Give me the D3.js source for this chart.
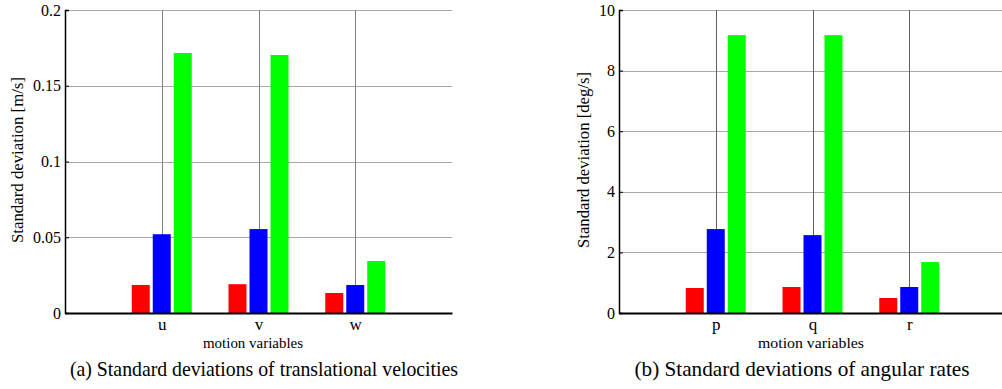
<!DOCTYPE html>
<html><head><meta charset="utf-8">
<script src="https://cdn.jsdelivr.net/npm/d3@7"></script>
<style>
html,body{margin:0;padding:0;background:#fff;}
svg text{fill:#000;}
</style></head>
<body><svg id="c" width="1002" height="389"></svg>
<script>
const seriesColors = ["#ff0000", "#0000ff", "#00ff00"];
const catsA = ["u", "v", "w"];
const redA = [0.0185, 0.019, 0.0132];
const blueA = [0.052, 0.0554, 0.0185];
const greenA = [0.1716, 0.1703, 0.0343];
const ticksA = [0, 0.05, 0.1, 0.15, 0.2];
const tickLabelsA = ["0", "0.05", "0.1", "0.15", "0.2"];

const catsB = ["p", "q", "r"];
const redB = [0.825, 0.858, 0.495];
const blueB = [2.77, 2.57, 0.858];
const greenB = [9.17, 9.17, 1.68];
const ticksB = [0, 2, 4, 6, 8, 10];
const tickLabelsB = ["0", "2", "4", "6", "8", "10"];

const FONT = "Liberation Serif";
const svg = d3.select("#c");

function panel(opt){
  const g = svg.append("g").style("font-family", FONT);
  const x = d3.scaleLinear().domain([0, opt.cats.length + 1]).range([opt.x0, opt.x1]);
  const y = d3.scaleLinear().domain(opt.yDomain).range([313, 10]);
  const series = [opt.red, opt.blue, opt.green];
  // horizontal grid
  g.append("g").selectAll("line").data(opt.ticks.filter(t => t > 0)).join("line")
    .attr("x1", opt.x0).attr("x2", opt.x1).attr("y1", d => Math.round(y(d)) + 0.5).attr("y2", d => Math.round(y(d)) + 0.5)
    .attr("stroke", "#a8a8a8").attr("stroke-width", 1);
  // vertical grid
  g.append("g").selectAll("line").data(opt.cats).join("line")
    .attr("x1", (d, i) => Math.round(x(i + 1)) + 0.5).attr("x2", (d, i) => Math.round(x(i + 1)) + 0.5)
    .attr("y1", y(opt.yDomain[1])).attr("y2", y(0))
    .attr("stroke", opt.vgrid).attr("stroke-width", 1);
  // bars
  const off = 0.217, bw = 0.186;
  series.forEach((vals, s) => {
    g.append("g").selectAll("rect").data(vals).join("rect")
      .attr("x", (d, i) => x(i + 1 + (s - 1) * off - bw / 2))
      .attr("width", x(bw) - x(0))
      .attr("y", d => y(d))
      .attr("height", d => y(0) - y(d))
      .attr("fill", seriesColors[s]);
  });
  // y axis
  const ya = d3.axisLeft(y).tickValues(opt.ticks).tickFormat((d, i) => opt.tickLabels[i]).tickSize(-4).tickPadding(4);
  const yg = g.append("g").attr("transform", `translate(${opt.x0},0)`).call(ya);
  yg.attr("font-family", null).attr("font-size", null);
  yg.select(".domain").attr("stroke", "#000").attr("stroke-width", 1.5);
  yg.selectAll(".tick line").attr("stroke", "#000");
  yg.selectAll("text").style("font-family", FONT).style("font-size", "16px");
  // x axis
  const xa = d3.axisBottom(x).tickValues(opt.cats.map((d, i) => i + 1)).tickFormat((d, i) => opt.cats[i]).tickSize(0).tickPadding(5);
  const xg = g.append("g").attr("transform", `translate(0,313)`).call(xa);
  xg.attr("font-family", null).attr("font-size", null);
  xg.select(".domain").attr("stroke", "#000").attr("stroke-width", 1.8);
  xg.selectAll("text").style("font-family", FONT).style("font-size", "17px");
  // y label
  g.append("text").attr("transform", `translate(${opt.ylabX},160) rotate(-90)`)
    .attr("text-anchor", "middle").style("font-size", "16px").attr("dominant-baseline", "central")
    .attr("textLength", opt.ylabLen).attr("lengthAdjust", "spacingAndGlyphs")
    .text(opt.ylabel);
  // x label
  g.append("text").attr("x", opt.xlabX).attr("y", 348).attr("text-anchor", "middle")
    .style("font-size", "15px").attr("textLength", opt.xlabLen).attr("lengthAdjust", "spacingAndGlyphs")
    .text("motion variables");
  // caption
  g.append("text").attr("x", opt.capX).attr("y", 376).attr("text-anchor", "middle")
    .style("font-size", "21px").attr("textLength", opt.capLen).attr("lengthAdjust", "spacingAndGlyphs")
    .text(opt.caption);
}

panel({cats: catsA, red: redA, blue: blueA, green: greenA, ticks: ticksA, tickLabels: tickLabelsA,
  yDomain: [0, 0.2], x0: 65, x1: 452, vgrid: "#808080",
  ylabel: "Standard deviation [m/s]", ylabX: 17, ylabLen: 166,
  xlabX: 253, xlabLen: 100, caption: "(a) Standard deviations of translational velocities", capX: 264, capLen: 388});
panel({cats: catsB, red: redB, blue: blueB, green: greenB, ticks: ticksB, tickLabels: tickLabelsB,
  yDomain: [0, 10], x0: 619, x1: 1006, vgrid: "#606060",
  ylabel: "Standard deviation [deg/s]", ylabX: 583, ylabLen: 176,
  xlabX: 811, xlabLen: 106, caption: "(b) Standard deviations of angular rates", capX: 802, capLen: 335});
</script></body></html>
